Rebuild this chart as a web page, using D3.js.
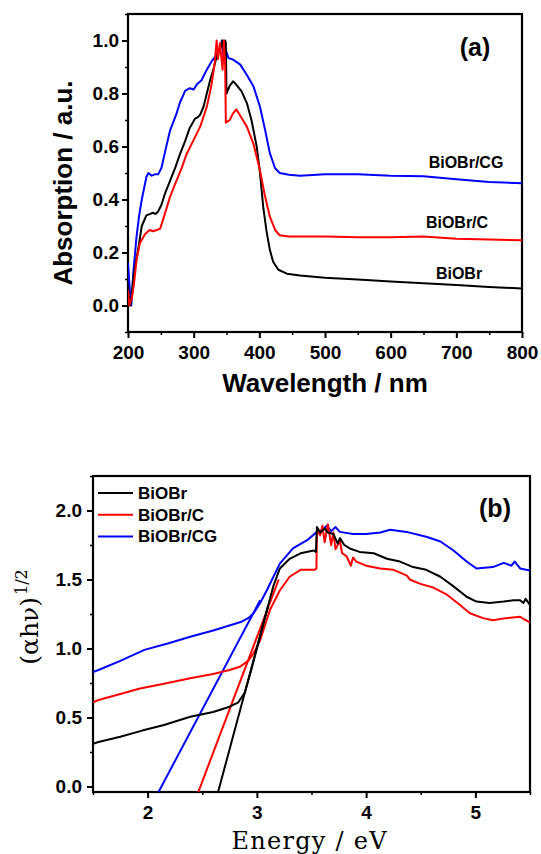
<!DOCTYPE html>
<html>
<head>
<meta charset="utf-8">
<script src="https://cdn.jsdelivr.net/npm/d3@7"></script>
<style>
  body { margin: 0; background: #fff; }
  svg { font-family: "Liberation Sans", Arial, sans-serif; }
</style>
</head>
<body>
<script>
// ---- Panel (a): absorption spectra, [wavelength nm, absorption]
const absBiOBr = [
  [200,0.07],[203,0.0],[205,0.02],[208,0.10],[211,0.15],[216,0.22],[221,0.30],[228,0.34],[233,0.345],
  [238,0.35],[242,0.345],[246,0.355],[251,0.38],[256,0.42],[264,0.47],[272,0.52],[279,0.57],[287,0.62],
  [294,0.67],[302,0.705],[306,0.71],[310,0.72],[315,0.75],[320,0.80],[325,0.85],[330,0.89],[335,0.94],
  [340,0.965],[344,1.0],[346,0.96],[348,1.0],[349,0.99],[350,0.80],[355,0.83],[360,0.846],[365,0.833],
  [373,0.808],[381,0.764],[388,0.70],[396,0.60],[401,0.50],[406,0.37],[411,0.28],[416,0.21],[421,0.165],
  [429,0.135],[442,0.12],[462,0.113],[500,0.105],[550,0.098],[600,0.091],[650,0.084],[700,0.077],
  [750,0.07],[800,0.064]
];
const absBiOBrC = [
  [200,0.06],[202,0.0],[206,0.03],[209,0.08],[213,0.17],[218,0.235],[226,0.27],[233,0.285],[238,0.28],
  [244,0.285],[249,0.29],[256,0.345],[264,0.41],[272,0.46],[282,0.52],[289,0.57],[300,0.625],[310,0.675],
  [320,0.75],[327,0.83],[332,0.915],[335,1.0],[337,0.93],[340,0.99],[344,0.89],[346,1.0],[348,0.9],
  [349,0.69],[355,0.70],[360,0.725],[365,0.74],[370,0.72],[381,0.675],[391,0.61],[401,0.51],[408,0.42],
  [416,0.335],[424,0.285],[431,0.265],[445,0.26],[462,0.26],[500,0.26],[550,0.258],[600,0.258],
  [650,0.26],[700,0.252],[750,0.249],[800,0.246]
];
const absBiOBrCG = [
  [200,0.16],[203,0.05],[205,0.0],[208,0.12],[213,0.26],[217,0.34],[221,0.40],[228,0.485],[231,0.50],
  [236,0.49],[241,0.495],[246,0.495],[251,0.52],[256,0.575],[264,0.66],[274,0.725],[279,0.765],[287,0.81],
  [294,0.82],[300,0.815],[305,0.835],[312,0.85],[320,0.89],[327,0.92],[335,0.947],[340,0.966],[343,1.0],
  [345,0.95],[348,0.97],[353,0.934],[360,0.928],[371,0.909],[381,0.87],[391,0.827],[401,0.75],[409,0.66],
  [416,0.575],[424,0.518],[431,0.50],[445,0.493],[462,0.49],[500,0.495],[550,0.495],[600,0.49],
  [650,0.488],[700,0.476],[750,0.466],[800,0.461]
];

// ---- Panel (b): Tauc plot, [energy eV, (ahv)^1/2]
const taucBiOBr = [
  [1.5,0.31],[1.55,0.322],[1.75,0.36],[1.95,0.405],[2.15,0.445],[2.39,0.505],[2.6,0.54],[2.75,0.578],
  [2.83,0.61],[2.89,0.68],[2.95,0.85],[3.0,1.0],[3.05,1.15],[3.1,1.3],[3.15,1.45],[3.21,1.58],[3.3,1.65],
  [3.4,1.69],[3.52,1.71],[3.54,1.70],[3.55,1.88],[3.58,1.84],[3.62,1.87],[3.65,1.84],[3.70,1.83],
  [3.74,1.76],[3.76,1.80],[3.8,1.75],[3.85,1.725],[3.94,1.70],[4.07,1.69],[4.19,1.65],[4.31,1.63],
  [4.43,1.59],[4.55,1.57],[4.68,1.52],[4.8,1.45],[4.92,1.375],[5.01,1.34],[5.13,1.33],[5.26,1.34],
  [5.35,1.35],[5.41,1.35],[5.44,1.33],[5.46,1.36],[5.5,1.315]
];
const taucBiOBrC = [
  [1.5,0.61],[1.55,0.627],[1.75,0.67],[1.93,0.71],[2.15,0.745],[2.39,0.784],[2.6,0.815],[2.75,0.844],
  [2.85,0.87],[2.92,0.91],[2.97,0.965],[3.03,1.06],[3.12,1.28],[3.21,1.42],[3.3,1.52],[3.4,1.57],
  [3.53,1.57],[3.545,1.58],[3.55,1.86],[3.58,1.82],[3.6,1.89],[3.62,1.77],[3.65,1.9],[3.68,1.75],
  [3.7,1.84],[3.72,1.72],[3.76,1.78],[3.78,1.69],[3.82,1.67],[3.86,1.6],[3.88,1.66],[3.91,1.63],
  [4.0,1.6],[4.13,1.58],[4.25,1.57],[4.37,1.53],[4.4,1.5],[4.49,1.47],[4.62,1.44],[4.74,1.39],
  [4.86,1.315],[4.95,1.255],[5.07,1.22],[5.16,1.205],[5.28,1.22],[5.41,1.23],[5.45,1.21],[5.5,1.19]
];
const taucBiOBrCG = [
  [1.5,0.83],[1.55,0.844],[1.75,0.91],[1.97,0.99],[2.2,1.04],[2.39,1.085],[2.6,1.13],[2.86,1.194],
  [2.92,1.22],[2.97,1.255],[3.03,1.33],[3.09,1.42],[3.21,1.615],[3.33,1.725],[3.46,1.785],[3.55,1.845],
  [3.6,1.86],[3.64,1.89],[3.68,1.85],[3.72,1.88],[3.76,1.845],[3.88,1.83],[4.0,1.83],[4.13,1.84],
  [4.22,1.86],[4.37,1.845],[4.55,1.81],[4.68,1.775],[4.8,1.71],[4.92,1.63],[5.01,1.58],[5.16,1.59],
  [5.26,1.62],[5.33,1.6],[5.36,1.63],[5.41,1.58],[5.5,1.565]
];
// tangent (band gap) lines
const fitBiOBr = [[2.645,-0.04],[3.1,1.3]];
const fitBiOBrC = [[2.464,-0.04],[3.2,1.5]];
const fitBiOBrCG = [[2.10,-0.04],[3.03,1.35]];

const seriesNames = ["BiOBr", "BiOBr/C", "BiOBr/CG"];
const seriesColors = ["#000000", "#ff0000", "#0000ff"];

const svg = d3.select("body").append("svg")
  .attr("width", 541)
  .attr("height", 854);

// draws frame, ticks and clip area for one panel
function makePanel(id, box, xDomain, yDomain, xTicks, xMinor, yTicks, yMinor, xFmt, yFmt, fontSize, xPad, yPad) {
  const x = d3.scaleLinear().domain(xDomain).range([box.left, box.right]);
  const y = d3.scaleLinear().domain(yDomain).range([box.bottom, box.top]);
  const g = svg.append("g");

  svg.append("clipPath").attr("id", id)
    .append("rect")
    .attr("x", box.left).attr("y", box.top)
    .attr("width", box.right - box.left).attr("height", box.bottom - box.top);

  // minor ticks
  g.append("g")
    .attr("transform", `translate(0,${box.bottom})`)
    .call(d3.axisBottom(x).tickValues(xMinor).tickSize(3).tickFormat(""))
    .call(a => a.select(".domain").remove())
    .selectAll("line").attr("stroke-width", 1.5);
  g.append("g")
    .attr("transform", `translate(${box.left},0)`)
    .call(d3.axisLeft(y).tickValues(yMinor).tickSize(3).tickFormat(""))
    .call(a => a.select(".domain").remove())
    .selectAll("line").attr("stroke-width", 1.5);

  // major ticks
  const xa = g.append("g")
    .attr("transform", `translate(0,${box.bottom})`)
    .call(d3.axisBottom(x).tickValues(xTicks).tickSize(6).tickPadding(xPad).tickFormat(xFmt));
  const ya = g.append("g")
    .attr("transform", `translate(${box.left},0)`)
    .call(d3.axisLeft(y).tickValues(yTicks).tickSize(6).tickPadding(yPad).tickFormat(yFmt));
  [xa, ya].forEach(a => {
    a.select(".domain").remove();
    a.selectAll("line").attr("stroke-width", 2);
    a.selectAll("text")
      .attr("font-family", "Liberation Sans, Arial, sans-serif")
      .attr("font-weight", "bold")
      .attr("font-size", fontSize)
      .attr("fill", "#000");
  });

  g.append("rect")
    .attr("x", box.left).attr("y", box.top)
    .attr("width", box.right - box.left).attr("height", box.bottom - box.top)
    .attr("fill", "none")
    .attr("stroke", "#000")
    .attr("stroke-width", 2.2);

  return { x, y, g };
}

function drawLine(p, clipId, data, color, width) {
  const line = d3.line().x(d => p.x(d[0])).y(d => p.y(d[1]));
  svg.append("path")
    .datum(data)
    .attr("clip-path", `url(#${clipId})`)
    .attr("d", line)
    .attr("fill", "none")
    .attr("stroke", color)
    .attr("stroke-width", width)
    .attr("stroke-linejoin", "round");
}

// ---------- Panel (a)
const pa = makePanel("clipA", { left: 128, right: 522, top: 14, bottom: 332 },
  [200, 800], [-0.1, 1.1],
  [200, 300, 400, 500, 600, 700, 800], [250, 350, 450, 550, 650, 750],
  [0, 0.2, 0.4, 0.6, 0.8, 1.0], [-0.1, 0.1, 0.3, 0.5, 0.7, 0.9, 1.1],
  d3.format("d"), d3.format(".1f"), 19, 8, 3);

drawLine(pa, "clipA", absBiOBrCG, seriesColors[2], 2);
drawLine(pa, "clipA", absBiOBr, seriesColors[0], 2);
drawLine(pa, "clipA", absBiOBrC, seriesColors[1], 2);

svg.append("text")
  .attr("x", 325).attr("y", 383).attr("dy", "0.35em")
  .attr("text-anchor", "middle")
  .attr("font-weight", "bold").attr("font-size", 26)
  .text("Wavelength / nm");

svg.append("text")
  .attr("transform", "translate(63,183) rotate(-90)")
  .attr("dy", "0.35em")
  .attr("text-anchor", "middle")
  .attr("font-weight", "bold").attr("font-size", 26)
  .text("Absorption / a.u.");

svg.append("text")
  .attr("x", 475).attr("y", 47).attr("dy", "0.35em")
  .attr("text-anchor", "middle")
  .attr("font-weight", "bold").attr("font-size", 25)
  .text("(a)");

// curve labels
const labelsA = [
  { name: seriesNames[2], x: 466, y: 162 },
  { name: seriesNames[1], x: 457, y: 222 },
  { name: seriesNames[0], x: 459, y: 273 }
];
svg.selectAll(".lblA")
  .data(labelsA)
  .enter().append("text")
  .attr("x", d => d.x).attr("y", d => d.y).attr("dy", "0.35em")
  .attr("text-anchor", "middle")
  .attr("font-weight", "bold").attr("font-size", 16)
  .text(d => d.name);

// ---------- Panel (b)
const pb = makePanel("clipB", { left: 93, right: 530, top: 476, bottom: 792 },
  [1.5, 5.5], [-0.04, 2.25],
  [2, 3, 4, 5], [1.5, 2.5, 3.5, 4.5, 5.5],
  [0, 0.5, 1.0, 1.5, 2.0], [0.25, 0.75, 1.25, 1.75, 2.25],
  d3.format("d"), d3.format(".1f"), 19, 8, 5);

drawLine(pb, "clipB", taucBiOBrCG, seriesColors[2], 2);
drawLine(pb, "clipB", fitBiOBrCG, seriesColors[2], 2);
drawLine(pb, "clipB", taucBiOBrC, seriesColors[1], 2);
drawLine(pb, "clipB", fitBiOBrC, seriesColors[1], 2);
drawLine(pb, "clipB", taucBiOBr, seriesColors[0], 2);
drawLine(pb, "clipB", fitBiOBr, seriesColors[0], 2);

// legend
const legend = svg.append("g");
seriesNames.forEach((name, i) => {
  const yy = 493 + i * 21.7;
  legend.append("line")
    .attr("x1", 98).attr("x2", 133).attr("y1", yy).attr("y2", yy)
    .attr("stroke", seriesColors[i]).attr("stroke-width", 2);
  legend.append("text")
    .attr("x", 138).attr("y", yy).attr("dy", "0.35em")
    .attr("font-weight", "bold").attr("font-size", 17)
    .text(name);
});

svg.append("text")
  .attr("x", 495).attr("y", 508).attr("dy", "0.35em")
  .attr("text-anchor", "middle")
  .attr("font-weight", "bold").attr("font-size", 25)
  .text("(b)");

// serif titles like the original (SimSun-style latin)
svg.append("text")
  .attr("x", 309).attr("y", 841).attr("dy", "0.35em")
  .attr("text-anchor", "middle")
  .attr("font-family", "DejaVu Serif, serif")
  .attr("font-size", 24)
  .attr("textLength", 155)
  .text("Energy / eV");

const yTitleB = svg.append("text")
  .attr("transform", "translate(29,617) rotate(-90)")
  .attr("dy", "0.35em")
  .attr("text-anchor", "middle")
  .attr("font-family", "DejaVu Serif, serif")
  .attr("font-size", 25);
yTitleB.append("tspan").text("(αhν)");
yTitleB.append("tspan")
  .attr("font-size", 16)
  .attr("dy", "-0.7em")
  .attr("dx", "2")
  .text("1/2");
</script>
</body>
</html>
